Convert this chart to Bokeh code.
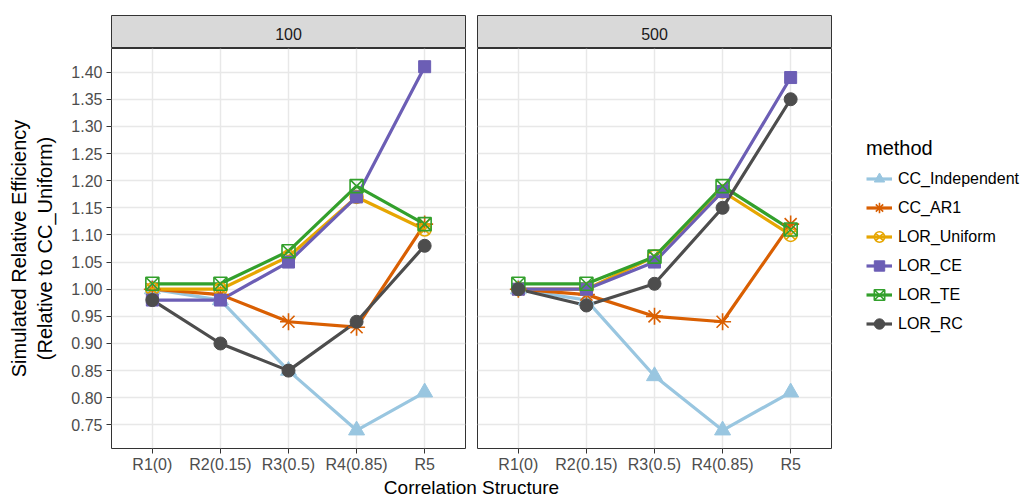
from bokeh.plotting import figure
from bokeh.models import (Range1d, FixedTicker, Label, Legend, LegendItem,
                          NumeralTickFormatter)
from bokeh.core.properties import value
from bokeh.layouts import row, column
from bokeh.embed import file_html
from bokeh.resources import INLINE

# ---------------- data ----------------
categories = ["R1(0)", "R2(0.15)", "R3(0.5)", "R4(0.85)", "R5"]
methods = ["CC_Independent", "CC_AR1", "LOR_Uniform", "LOR_CE", "LOR_TE", "LOR_RC"]
panel_labels = ["100", "500"]

n100_cc_independent = [1.00, 0.98, 0.85, 0.74, 0.81]
n100_cc_ar1 = [1.00, 0.99, 0.94, 0.93, 1.12]
n100_lor_uniform = [1.00, 1.00, 1.06, 1.17, 1.11]
n100_lor_ce = [0.98, 0.98, 1.05, 1.17, 1.41]
n100_lor_te = [1.01, 1.01, 1.07, 1.19, 1.12]
n100_lor_rc = [0.98, 0.90, 0.85, 0.94, 1.08]

n500_cc_independent = [1.00, 0.98, 0.84, 0.74, 0.81]
n500_cc_ar1 = [1.00, 0.99, 0.95, 0.94, 1.12]
n500_lor_uniform = [1.00, 1.00, 1.06, 1.18, 1.10]
n500_lor_ce = [1.00, 1.00, 1.05, 1.18, 1.39]
n500_lor_te = [1.01, 1.01, 1.06, 1.19, 1.11]
n500_lor_rc = [1.00, 0.97, 1.01, 1.15, 1.35]

y_ticks = [0.75, 0.80, 0.85, 0.90, 0.95, 1.00, 1.05, 1.10, 1.15, 1.20,
           1.25, 1.30, 1.35, 1.40]

x_title = "Correlation Structure"
y_title = "Simulated Relative Efficiency\n(Relative to CC_Uniform)"
legend_title = "method"

panels = {
    "100": [n100_cc_independent, n100_cc_ar1, n100_lor_uniform,
            n100_lor_ce, n100_lor_te, n100_lor_rc],
    "500": [n500_cc_independent, n500_cc_ar1, n500_lor_uniform,
            n500_lor_ce, n500_lor_te, n500_lor_rc],
}

# ---------------- styles ----------------
colors = ["#99C6E0", "#D95F02", "#E6A602", "#6C5EB5", "#33A02C", "#4D4D4D"]
markers = ["triangle", "asterisk", "circle_x", "square", "square_x", "circle"]
msizes = [16, 17, 13, 12, 13, 13]
filled = [True, False, False, True, False, True]

FONT = "Liberation Sans"
W1, W2, WL = 471, 361, 202
ML1, MR1, ML2, MR2 = 111, 6, 6, 1
STRIP_TOP, STRIP_H = 15, 33
PANEL_F, PANEL_B = 401, 26
XLAB_H = 24

all_vals = [v for lst in panels.values() for s in lst for v in s]
lo, hi = min(all_vals), max(all_vals)
pad = 0.05 * (hi - lo)
ymin, ymax = lo - pad, hi + pad
xpos = list(range(1, len(categories) + 1))


def make_strip(text, width, ml, mr):
    s = figure(width=width, height=STRIP_TOP + STRIP_H,
               x_range=Range1d(0, 1), y_range=Range1d(0, 1),
               x_axis_location=None, y_axis_location=None,
               min_border_left=ml, min_border_right=mr,
               min_border_top=STRIP_TOP, min_border_bottom=0,
               toolbar_location=None, output_backend="svg",
               background_fill_color="#D9D9D9", border_fill_color="white",
               outline_line_color="#333333", outline_line_width=1)
    s.grid.visible = False
    s.add_layout(Label(x=0.5, y=0.45, text=text, text_align="center",
                       text_baseline="middle", text_font_size="16px",
                       text_font=FONT, text_color="#1A1A1A"))
    return s


def make_panel(series, width, ml, mr, show_y):
    p = figure(width=width, height=PANEL_F + PANEL_B,
               x_range=Range1d(0.4, len(categories) + 0.6),
               y_range=Range1d(ymin, ymax),
               min_border_left=ml, min_border_right=mr,
               min_border_top=0, min_border_bottom=PANEL_B,
               toolbar_location=None, output_backend="svg",
               background_fill_color="white", border_fill_color="white",
               outline_line_color="#333333", outline_line_width=1)
    p.xaxis.ticker = FixedTicker(ticks=xpos, minor_ticks=[])
    p.xaxis.major_label_overrides = {i: c for i, c in zip(xpos, categories)}
    p.yaxis.ticker = FixedTicker(ticks=y_ticks, minor_ticks=[])
    p.yaxis.formatter = NumeralTickFormatter(format="0.00")
    p.xgrid.ticker = FixedTicker(ticks=xpos, minor_ticks=[])
    p.ygrid.ticker = FixedTicker(ticks=y_ticks, minor_ticks=[])
    p.grid.grid_line_color = "#E8E8E8"
    p.grid.grid_line_width = 1.5
    for ax in p.axis:
        ax.axis_line_color = None
        ax.major_tick_line_color = "#333333"
        ax.major_tick_in = 0
        ax.major_tick_out = 5
        ax.minor_tick_line_color = None
        ax.major_label_text_font = FONT
        ax.major_label_text_font_size = "16px"
        ax.major_label_text_color = "#4D4D4D"
        ax.major_label_standoff = 4
    p.xaxis.major_label_standoff = 2
    if show_y:
        p.yaxis.axis_label = y_title
        p.yaxis.axis_label_text_font = FONT
        p.yaxis.axis_label_text_font_size = "20px"
        p.yaxis.axis_label_text_font_style = "normal"
        p.yaxis.axis_label_text_color = "black"
        p.yaxis.axis_label_standoff = 12
    else:
        p.yaxis.visible = False
    for vals, c in zip(series, colors):
        p.line(xpos, vals, line_color=c, line_width=3.2)
    for vals, c, m, sz, f in zip(series, colors, markers, msizes, filled):
        p.scatter(xpos, vals, marker=m, size=sz, line_color=c,
                  fill_color=c if f else None,
                  line_width=1 if f else 1.6)
    return p


s1 = make_strip(panel_labels[0], W1, ML1, MR1)
s2 = make_strip(panel_labels[1], W2, ML2, MR2)
p1 = make_panel(panels["100"], W1, ML1, MR1, True)
p2 = make_panel(panels["500"], W2, ML2, MR2, False)

# shared x axis title
xl = figure(width=W1 + W2, height=XLAB_H, x_range=Range1d(0, W1 + W2),
            y_range=Range1d(0, 1), x_axis_location=None, y_axis_location=None,
            min_border=0, toolbar_location=None, output_backend="svg",
            outline_line_color=None)
xl.grid.visible = False
xl.add_layout(Label(x=W1, y=0.5, text=x_title, text_align="center",
                    text_baseline="middle", text_font_size="19px",
                    text_font=FONT, text_color="black"))

# legend figure (legend-only renderers hold one undefined point each)
total_h = STRIP_TOP + STRIP_H + PANEL_F + PANEL_B + XLAB_H
lg = figure(width=WL, height=total_h, x_range=Range1d(0, 1),
            y_range=Range1d(0, 1), x_axis_location=None, y_axis_location=None,
            min_border_left=34, min_border_top=137, min_border_right=0,
            min_border_bottom=0, toolbar_location=None, output_backend="svg",
            outline_line_color=None)
lg.grid.visible = False
nan = float("nan")
items = []
for name, c, m, sz, f in zip(methods, colors, markers, msizes, filled):
    lr = lg.line(x=[nan], y=[nan], line_color=c, line_width=3.2)
    sr = lg.scatter(x=[nan], y=[nan], marker=m, size=sz, line_color=c,
                    fill_color=c if f else None, line_width=1 if f else 1.6)
    items.append(LegendItem(label=value(name), renderers=[lr, sr]))
legend = Legend(items=items, location="top_left", margin=0, padding=0,
                title=legend_title, title_text_font=FONT,
                title_text_font_size="20px", title_text_font_style="normal",
                title_text_color="black", title_standoff=4,
                label_text_font=FONT, label_text_font_size="16px",
                label_text_color="black", glyph_width=26, glyph_height=29,
                label_height=24, spacing=0, label_standoff=6,
                border_line_color=None, background_fill_alpha=0)
lg.add_layout(legend)

layout = row(column(row(column(s1, p1), column(s2, p2)), xl), lg)

open("out.html", "w").write(file_html(layout, INLINE))
